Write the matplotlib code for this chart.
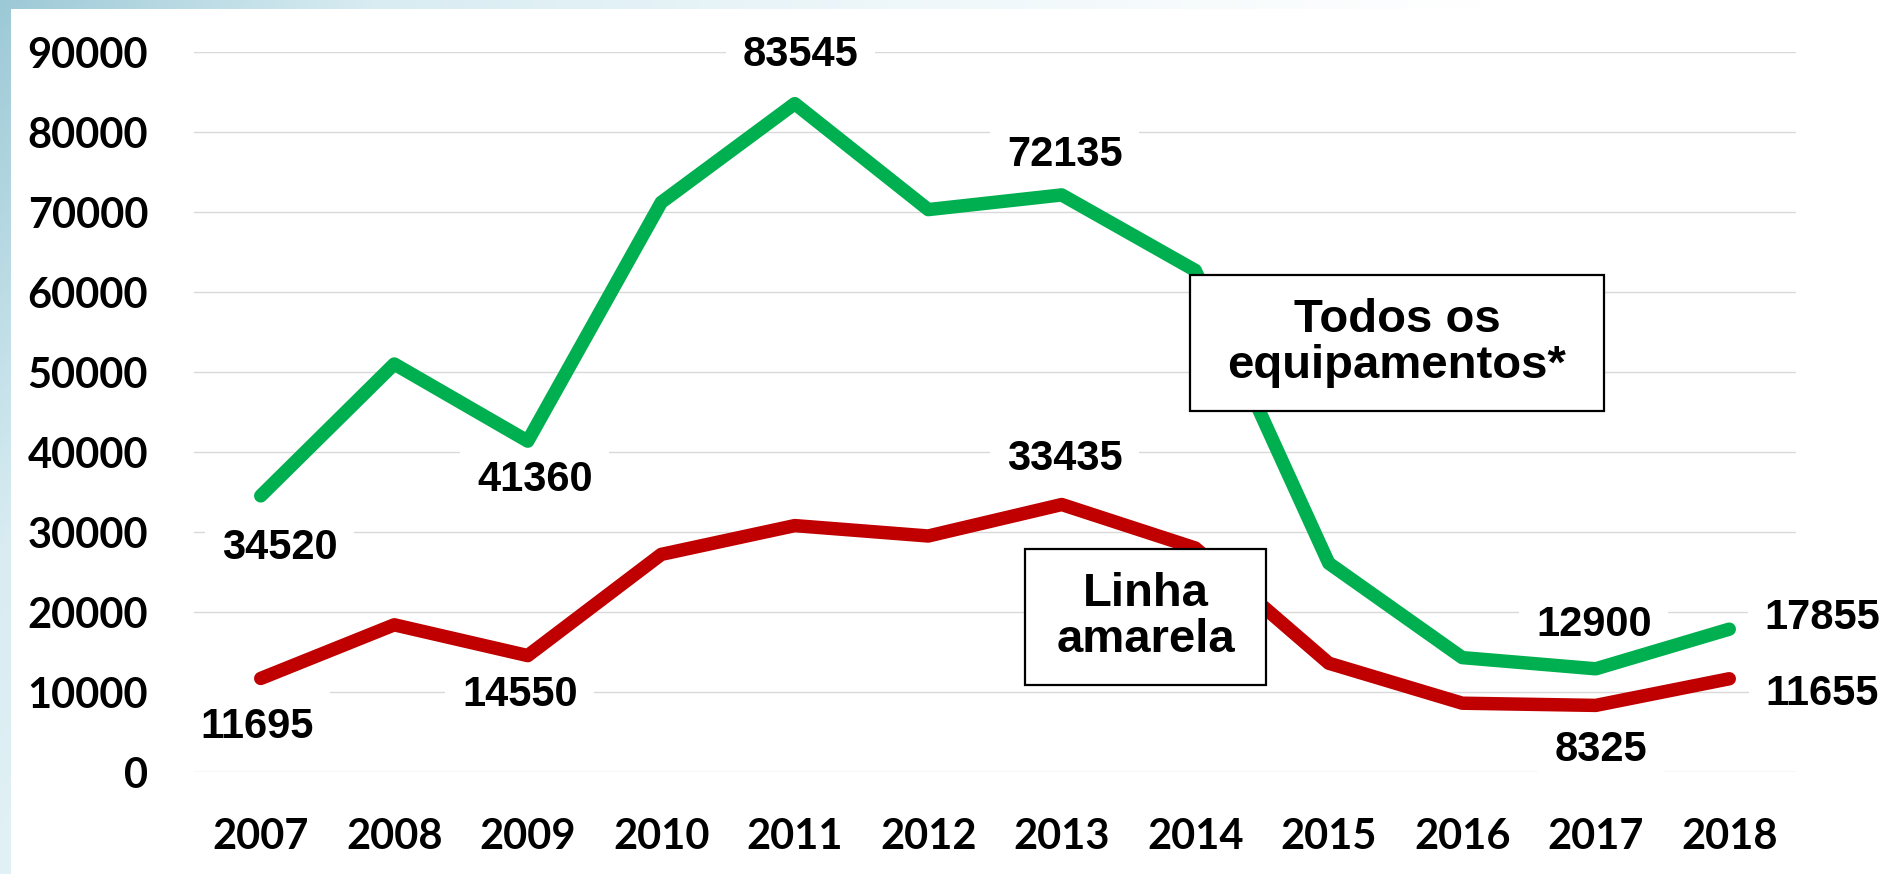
import numpy as np
import matplotlib
matplotlib.use("Agg")
import matplotlib.pyplot as plt
from matplotlib.patches import Rectangle

# ---------------- data ----------------
years = ["2007", "2008", "2009", "2010", "2011", "2012",
         "2013", "2014", "2015", "2016", "2017", "2018"]
todos = [34520, 51000, 41360, 71200, 83545, 70300,
         72135, 62700, 26100, 14300, 12900, 17855]
amarela = [11695, 18400, 14550, 27200, 30800, 29500,
           33435, 28000, 13600, 8600, 8325, 11655]
y_ticks = [0, 10000, 20000, 30000, 40000, 50000, 60000, 70000, 80000, 90000]

# labelled points: index -> offset (pixels) of the label centre
todos_labels = {0: (19, -52), 2: (7, -39), 4: (6, 49), 6: (3, 40),
                10: (-2, 44), 11: (93, 11)}
amarela_labels = {0: (-4, -49), 2: (-8, -39), 6: (3, 46),
                  10: (5, -45), 11: (93, -15)}

GREEN = "#00B050"
RED = "#C00000"

W, H = 1889, 874
fig = plt.figure(figsize=(W / 100, H / 100), dpi=100)

# ---------------- background gradient frame ----------------
bg = fig.add_axes([0, 0, 1, 1], zorder=-10)
px, py = np.meshgrid(np.linspace(0, W, 600), np.linspace(0, H, 300))
t = np.clip(px / 1480 + py / H * 0.4, 0, 1)
stops_t = [0.0, 0.25, 0.6, 1.0]
stops_c = np.array([[0x9C, 0xC9, 0xD6], [0xD8, 0xEC, 0xF2],
                    [0xEE, 0xF7, 0xFA], [0xFF, 0xFF, 0xFF]]) / 255
img = np.stack([np.interp(t, stops_t, stops_c[:, k]) for k in range(3)], axis=-1)
bg.imshow(img, extent=[0, 1, 0, 1], origin="upper", aspect="auto",
          interpolation="bilinear")
bg.set_xlim(0, 1)
bg.set_ylim(0, 1)
bg.axis("off")
bg.add_patch(Rectangle((11 / W, 0), 1, 1 - 9 / H, facecolor="white",
                       edgecolor="none", transform=bg.transAxes))

# ---------------- main axes ----------------
ax = fig.add_axes([194 / W, (H - 772) / H, 1602 / W, 720 / H])
ax.patch.set_alpha(0)
x = np.arange(len(years))

ax.plot(x, todos, color=GREEN, lw=9.7, solid_capstyle="round",
        solid_joinstyle="round", zorder=3)
ax.plot(x, amarela, color=RED, lw=9.7, solid_capstyle="round",
        solid_joinstyle="round", zorder=3)

ax.set_xlim(-0.5, len(years) - 0.5)
ax.set_ylim(0, 90000)
ax.set_yticks(y_ticks)
ax.set_yticklabels([str(v) for v in y_ticks])
ax.set_xticks(x)
ax.set_xticklabels(years)
ax.grid(axis="y", color="#D9D9D9", lw=1.0, zorder=0)
ax.set_axisbelow(True)
for s in ax.spines.values():
    s.set_visible(False)
ax.tick_params(axis="both", length=0)
ax.tick_params(axis="y", pad=33)
ax.tick_params(axis="x", pad=33)
for lab in ax.get_xticklabels() + ax.get_yticklabels():
    lab.set_fontfamily("Lato")
    lab.set_fontweight("bold")
    lab.set_fontsize(30)

lab_font = dict(family="Liberation Sans", weight="bold", size=30)


def put_labels(vals, labels):
    for i, (dx, dy) in labels.items():
        ax.annotate(str(vals[i]), (x[i], vals[i]), xytext=(dx, dy),
                    textcoords="offset pixels", ha="center", va="center",
                    annotation_clip=False, zorder=2,
                    bbox=dict(boxstyle="square,pad=0.4", fc="white",
                              ec="none"),
                    **lab_font)


put_labels(todos, todos_labels)
put_labels(amarela, amarela_labels)

# ---------------- annotation boxes ----------------
box_font = dict(family="Liberation Sans", weight="bold", size=34)


def text_box(x0, x1, y0, y1, txt):
    ax.add_patch(Rectangle((x0, y0), x1 - x0, y1 - y0, transform=ax.transAxes,
                           facecolor="white", edgecolor="black", lw=1.6,
                           zorder=6, clip_on=False))
    ax.text((x0 + x1) / 2, (y0 + y1) / 2, txt, transform=ax.transAxes,
            ha="center", va="center", ma="center", linespacing=1.05,
            zorder=7, **box_font)


text_box(0.6217, 0.8801, 0.5014, 0.6903, "Todos os\nequipamentos*")
text_box(0.5187, 0.6692, 0.1208, 0.3097, "Linha\namarela")

fig.savefig("out.png", dpi=100)
